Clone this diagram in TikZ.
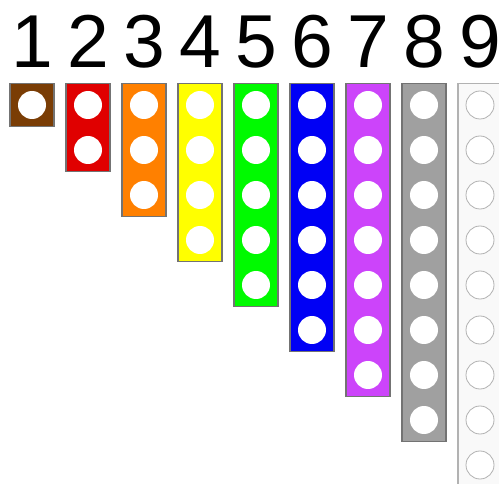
\documentclass[tikz,border=0pt]{standalone}
\usepackage{fontspec}
\setmainfont{Liberation Sans}
\usetikzlibrary{positioning}

\definecolor{rodbrown}{RGB}{122,61,5}
\definecolor{rodred}{RGB}{224,0,0}
\definecolor{rodorange}{RGB}{255,128,0}
\definecolor{rodyellow}{RGB}{255,255,0}
\definecolor{rodgreen}{RGB}{0,250,0}
\definecolor{rodblue}{RGB}{0,0,245}
\definecolor{rodpurple}{RGB}{204,68,250}
\definecolor{rodgray}{RGB}{160,160,160}
\definecolor{rodwhite}{RGB}{249,249,249}

\begin{document}
\begin{tikzpicture}[
    x=1pt, y=1pt,
    rod/.style={rectangle, draw=black!55, line width=1.3pt, minimum width=44pt, anchor=north, inner sep=0pt},
    hole/.style={circle, fill=white, minimum size=28pt, inner sep=0pt},
    num/.style={font=\fontsize{75}{75}\selectfont, anchor=base, inner sep=0pt}
]
    \useasboundingbox (0,0) rectangle (499,483);
    \clip (0,0) rectangle (499,483);

    % Coloured rods 1 to 8
    \foreach \n/\col in {1/rodbrown, 2/rodred, 3/rodorange, 4/rodyellow,
                         5/rodgreen, 6/rodblue, 7/rodpurple, 8/rodgray} {
        \node[rod, fill=\col, minimum height={45*\n-2}] (r\n) at ({32+56*(\n-1)}, 400) {};
        \node[num] (d\n) at ([yshift=15pt]r\n.north) {\n};
        \foreach \k in {1,...,\n}
            \node[hole] (h\n-\k) at ([yshift={-22-45*(\k-1)}]r\n.north) {};
    }

    % White rod 9, cut by the frame
    \node[rod, fill=rodwhite, draw=black!30, minimum height=403] (r9) at (480, 400) {};
    \node[num] (d9) at ([yshift=15pt]r9.north) {9};
    \foreach \k in {1,...,9}
        \node[hole, draw=black!30, line width=0.8pt] (h9-\k) at ([yshift={-22-45*(\k-1)}]r9.north) {};

\end{tikzpicture}
\end{document}
